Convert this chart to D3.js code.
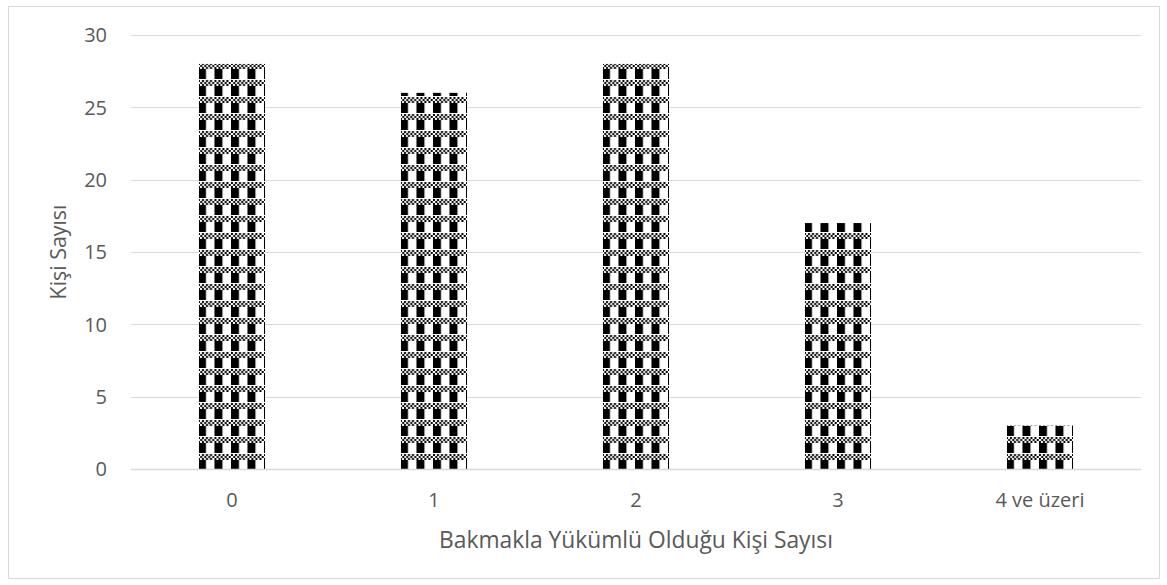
<!DOCTYPE html>
<html>
<head>
<meta charset="utf-8">
<script src="https://cdn.jsdelivr.net/npm/d3@7"></script>
<style>
  body { margin: 0; background: #fff; }
  text { font-family: "Open Sans", "Noto Sans", sans-serif; fill: #595959; }
</style>
</head>
<body>
<svg id="chart" width="1167" height="585"></svg>
<script>
const categories = ["0", "1", "2", "3", "4 ve üzeri"]
const values = [28, 26, 28, 17, 3]
const yTicks = [0, 5, 10, 15, 20, 25, 30]
const xTitle = "Bakmakla Yükümlü Olduğu Kişi Sayısı"
const yTitle = "Kişi Sayısı"

const W = 1167, H = 585
const margin = {top: 35, right: 26, bottom: 116, left: 131}
const width = W - margin.left - margin.right
const height = H - margin.top - margin.bottom

const svg = d3.select("#chart")

// scale a text node's font size so it spans the wanted length
const fitText = (sel, target) => {
    const node = sel.node()
    const size = parseFloat(sel.style("font-size"))
    const len = node.getComputedTextLength()
    sel.style("font-size", (size * target / len) + "px")
}

// chart border
svg.append("rect")
    .attr("x", 8.5).attr("y", 6.5)
    .attr("width", 1151).attr("height", 572)
    .attr("fill", "none")
    .attr("stroke", "#d9d9d9")

const x = d3.scaleBand()
    .domain(categories)
    .range([0, width])
    .paddingInner(0.673)
    .paddingOuter(0.3365)

const y = d3.scaleLinear()
    .domain([0, 30])
    .range([height, 0])

const g = svg.append("g")
    .attr("transform", "translate(" + margin.left + "," + margin.top + ")")

// gridlines
g.append("g")
    .selectAll("line")
    .data(yTicks.filter(d => d > 0))
    .enter()
    .append("line")
    .attr("x1", 0).attr("x2", width)
    .attr("y1", d => Math.round(y(d)) + 0.5)
    .attr("y2", d => Math.round(y(d)) + 0.5)
    .attr("stroke", "#d9d9d9")

// one pattern per bar, anchored at bar's left/bottom
const defs = svg.append("defs")
const pw = 16.5, ph = 17
values.forEach((v, i) => {
    const bx = margin.left + x(categories[i])
    const by = margin.top + height
    const p = defs.append("pattern")
        .attr("id", "pat" + i)
        .attr("patternUnits", "userSpaceOnUse")
        .attr("x", bx).attr("y", by)
        .attr("width", pw).attr("height", ph)
    p.append("rect").attr("width", pw).attr("height", ph).attr("fill", "#fff")
    // black block
    p.append("rect").attr("x", 0).attr("y", 7).attr("width", 8).attr("height", 10).attr("fill", "#000")
    // fine checker band
    for (let r = 0; r < 3; r++) {
        for (let c = 0; c < 8; c++) {
            if ((r + c) % 2 === 0) {
                p.append("rect")
                    .attr("x", c * 2 + (r % 2 ? 0.25 : 0)).attr("y", 1 + r * 2)
                    .attr("width", 2).attr("height", 2)
                    .attr("fill", "#000")
            }
        }
    }
})

// bars
g.selectAll("rect.bar")
    .data(values)
    .enter()
    .append("rect")
    .attr("class", "bar")
    .attr("x", (d, i) => x(categories[i]))
    .attr("y", d => y(d))
    .attr("width", x.bandwidth())
    .attr("height", d => height - y(d))
    .attr("fill", (d, i) => "url(#pat" + i + ")")

// x axis line
g.append("line")
    .attr("x1", 0).attr("x2", width)
    .attr("y1", height + 0.5).attr("y2", height + 0.5)
    .attr("stroke", "#d9d9d9")
    .attr("stroke-width", 1.5)

// y tick labels
g.selectAll("text.ytick")
    .data(yTicks)
    .enter()
    .append("text")
    .attr("class", "ytick")
    .attr("x", -24)
    .attr("y", d => y(d))
    .attr("dy", "0.36em")
    .attr("text-anchor", "end")
    .style("font-size", "20px")
    .text(d => d)

// x tick labels
g.selectAll("text.xtick")
    .data(categories)
    .enter()
    .append("text")
    .attr("class", "xtick")
    .attr("x", d => x(d) + x.bandwidth() / 2)
    .attr("y", height + 38)
    .attr("text-anchor", "middle")
    .style("font-size", "20px")
    .text(d => d)

// axis titles
const xt = svg.append("text")
    .attr("x", margin.left + width / 2)
    .attr("y", 548)
    .attr("text-anchor", "middle")
    .style("font-size", "20px")
    .text(xTitle)
fitText(xt, 394)

const yt = svg.append("text")
    .attr("transform", "translate(66," + (margin.top + height / 2) + ") rotate(-90)")
    .attr("text-anchor", "middle")
    .style("font-size", "20px")
    .text(yTitle)
fitText(yt, 95)
</script>
</body>
</html>
